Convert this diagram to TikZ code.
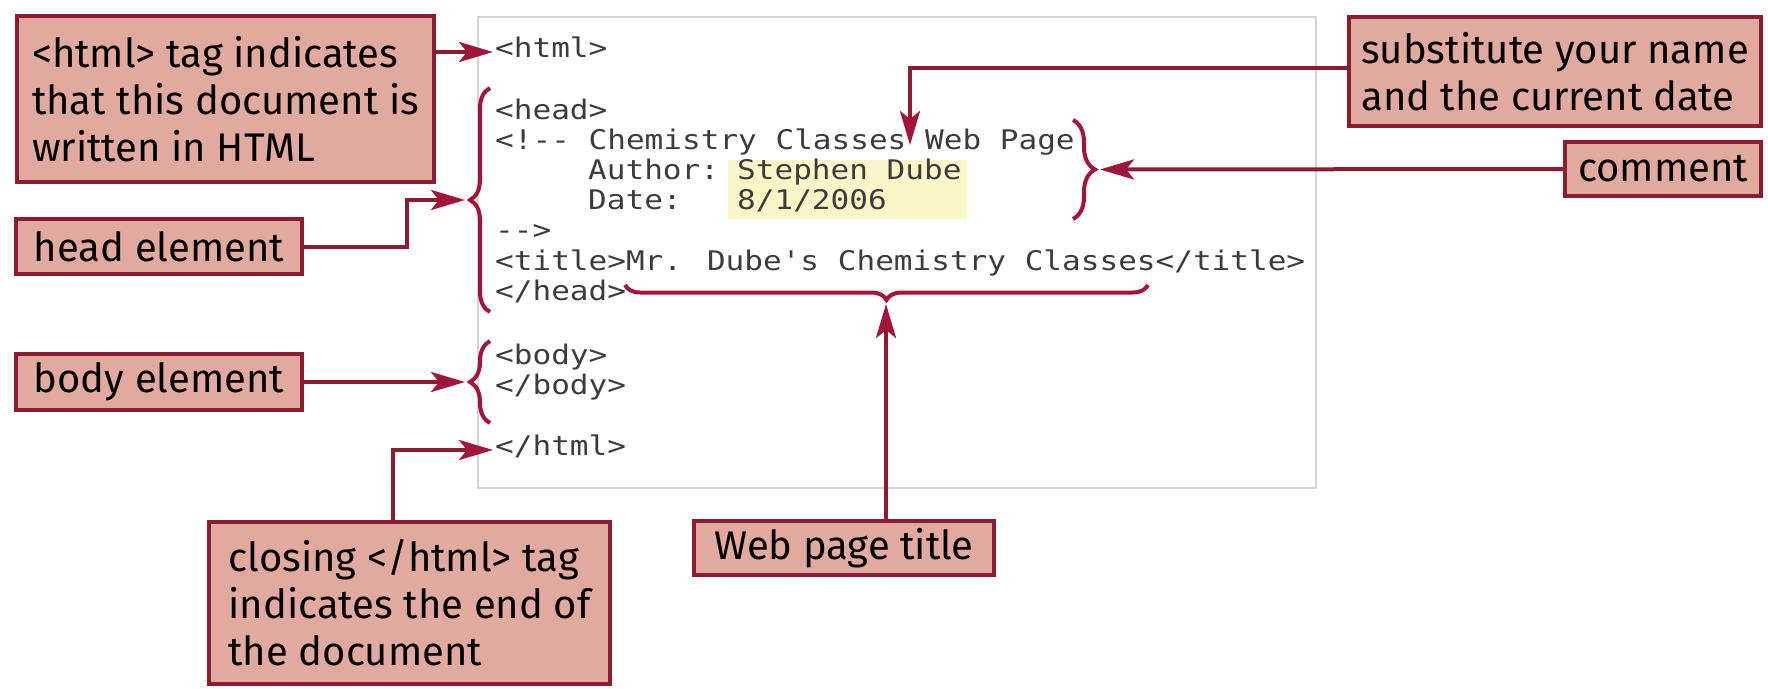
\documentclass[tikz,border=0pt]{standalone}
\usepackage{fontspec}
\usetikzlibrary{arrows.meta}
\usetikzlibrary{decorations.pathreplacing}
\newfontfamily\labelfont{Fira Sans}
\newfontfamily\codefont[FakeStretch=1.15,Ligatures=TeXOff]{DejaVu Sans Mono}
\definecolor{boxfill}{HTML}{E2AA9E}
\definecolor{boxline}{HTML}{8B1C31}
\definecolor{wine}{HTML}{A3143A}
\definecolor{codegray}{HTML}{3C3C3C}
\definecolor{marker}{HTML}{FBF6C8}
\definecolor{panelgray}{HTML}{D4D4D4}
\tikzset{%
    callout/.style={draw=boxline,fill=boxfill,line width=4pt,inner sep=0pt,outer sep=0pt,anchor=north west,align=left,text=black,font=\labelfont\fontsize{40}{47}\selectfont},
    link/.style={boxline,line width=4pt,shorten >=2pt,-{Stealth[length=34pt,width=20pt,inset=8pt,color=wine]}},
    codeline/.style={anchor=base west,inner sep=0pt,text height=12pt,text depth=2pt,text=codegray,font=\codefont\fontsize{27}{30}\selectfont},
    curly/.style={wine,line width=4pt,decorate,decoration={brace,amplitude=#1}},
}
\begin{document}
\begin{tikzpicture}[x=1pt,y=-1pt]
    \useasboundingbox (0,0) rectangle (1768,688);

    %code panel
    \draw[panelgray, line width=2pt] (478,17) rectangle (1316,488);
    \fill[marker] (728,160) rectangle (967,219);
    \node[codeline] (codehtml) at (495,57) {<html>};
    \node[codeline] (codehead) at (495,119) {<head>};
    \node[codeline] (codecmt) at (495,149) {<!-{}- Chemistry Classes Web Page};
    \node[codeline] (codeauthor) at (588,179) {Author:};
    \node[codeline] (codename) at (737,179) {Stephen Dube};
    \node[codeline] (codedate) at (588,209) {Date:};
    \node[codeline] (codeday) at (737,209) {8/1/2006};
    \node[codeline] (codecmtend) at (495,239) {-{}->};
    \node[codeline] (codetitle) at (495,270) {<title>Mr. Dube's Chemistry Classes</title>};
    \node[codeline] (codeheadend) at (495,300) {</head>};
    \node[codeline] (codebody) at (495,364) {<body>};
    \node[codeline] (codebodyend) at (495,394) {</body>};
    \node[codeline] (codeendhtml) at (495,455) {</html>};

    %oklepaji
    \draw[curly=20pt] (490,312) -- (490,88);
    \draw[curly=20pt] (490,423) -- (490,341);
    \draw[curly=22pt] (1073,120) -- (1073,219);
    \draw[curly=15pt] (1148,285) -- (625,285);
    \coordinate (headtip) at (467,200);
    \coordinate (bodytip) at (467,382);
    \coordinate (comtip) at (1098,169.5);
    \coordinate (titletip) at (886,302);
    \coordinate (subtip) at (910,147);

    %opisi
    \node[callout, minimum width=417pt, minimum height=166pt] (tagbox) at (17,16)
        {<html> tag indicates\\that this document is\\written in HTML};
    \node[callout, minimum width=286pt, minimum height=55pt] (headbox) at (16,219) {head element};
    \node[callout, minimum width=286pt, minimum height=56pt] (bodybox) at (16,354) {body element};
    \node[callout, minimum width=401pt, minimum height=162pt] (closebox) at (209,522)
        {closing </html> tag\\indicates the end of\\the document};
    \node[callout, minimum width=300pt, minimum height=54pt, align=center] (titlebox) at (694,521) {Web page title};
    \node[callout, minimum width=412pt, minimum height=109pt] (subbox) at (1349,17)
        {substitute your name\\and the current date};
    \node[callout, minimum width=196pt, minimum height=54pt, align=center] (combox) at (1565,142) {comment};

    %puscice
    \draw[link] (tagbox.east |- codehtml.west) -- (codehtml.west);
    \draw[link] (headbox.east) -- ++(105,0) |- (headtip);
    \draw[link] (bodybox.east) -- (bodytip);
    \draw[link] ([xshift=-17pt]closebox.north) |- (codeendhtml.west);
    \draw[link] ([xshift=42pt]titlebox.north) -- (titletip);
    \draw[link] ([yshift=4pt]subbox.west) -| (subtip);
    \draw[link] (combox.west) -- (comtip);
\end{tikzpicture}
\end{document}
